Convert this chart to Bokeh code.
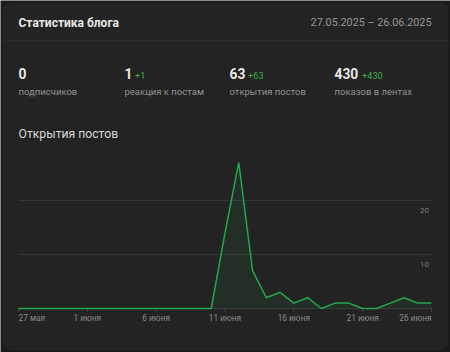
from bokeh.plotting import figure
from bokeh.models import Label, Range1d, BoxAnnotation
from bokeh.embed import file_html
from bokeh.resources import INLINE

# ---- data ----
day_index = list(range(31))  # 27 May .. 26 June 2025
opens = [0, 0, 0, 0, 0, 0, 0, 0, 0, 0, 0, 0, 0, 0, 0,
         14, 27, 7, 2, 3, 1, 2, 0, 1, 1, 0, 0, 1, 2, 1, 1]
tick_days = [0, 5, 10, 15, 20, 25, 30]
tick_labels = ["27 мая", "1 июня", "6 июня", "11 июня", "16 июня", "21 июня", "26 июня"]
y_ticks = [10, 20]

title = "Статистика блога"
period = "27.05.2025 – 26.06.2025"
stat_values = ["0", "1", "63", "430"]
stat_deltas = ["", "+1", "+63", "+430"]
stat_names = ["подписчиков", "реакция к постам", "открытия постов", "показов в лентах"]
chart_title = "Открытия постов"

# ---- layout (pixels) ----
W, H = 450, 352
PL, PR, PB = 18, 431, 308          # plot area left/right/baseline
PX_PER_DAY = (PR - PL) / (len(day_index) - 1)
PX_PER_UNIT = 5.4
FONT = "Roboto"
CARD = "#232323"
OUTER = "#1a1a1a"
GREEN = "#22a84c"

x0 = day_index[0] - PL / PX_PER_DAY
x1 = day_index[-1] + (W - PR) / PX_PER_DAY
y0 = -(H - PB) / PX_PER_UNIT
y1 = PB / PX_PER_UNIT

p = figure(width=W, height=H, output_backend="svg", toolbar_location=None,
           x_range=Range1d(x0, x1), y_range=Range1d(y0, y1),
           min_border=0)
p.axis.visible = False
p.grid.visible = False
p.background_fill_color = OUTER
p.border_fill_color = OUTER
p.outline_line_color = None


def sx(cx):
    return cx


def sy(cy):
    return H - cy


def box(l, t, r, b, color, radius=0):
    p.add_layout(BoxAnnotation(left=sx(l), right=sx(r), top=sy(t), bottom=sy(b),
                               left_units="screen", right_units="screen",
                               top_units="screen", bottom_units="screen",
                               fill_color=color, fill_alpha=1, line_color=None,
                               border_radius=radius, level="underlay"))


box(2, 2, 448, 350, CARD, 9)
box(2, 39.5, 448, 40.5, "#2a2a2a")

# gridlines
n = len(y_ticks)
p.segment(x0=[day_index[0]] * n, x1=[day_index[-1]] * n, y0=y_ticks, y1=y_ticks,
          line_color="#353535", line_width=1)
# axis baseline and tick marks
p.segment(x0=[day_index[0]], x1=[day_index[-1]], y0=[0], y1=[0],
          line_color="#3a3a3a", line_width=1)
tick_len = 3 / PX_PER_UNIT
p.segment(x0=tick_days, x1=tick_days, y0=[0] * len(tick_days),
          y1=[-tick_len] * len(tick_days), line_color="#484848", line_width=1)

p.varea(x=day_index, y1=[0] * len(opens), y2=opens, fill_color=GREEN, fill_alpha=0.09)
p.line(day_index, opens, line_color=GREEN, line_width=1.5)


def lab(text, cx, cy, size, color, bold=False, align="left"):
    p.add_layout(Label(x=sx(cx), y=sy(cy), x_units="screen", y_units="screen",
                       text=text, text_font=FONT, text_font_size=f"{size}px",
                       text_color=color, text_font_style="bold" if bold else "normal",
                       text_align=align, text_baseline="middle"))


lab(title, 18, 22, 12, "#e6e6e6", bold=True)
lab(period, 431, 22, 10.8, "#959595", align="right")

cols = [18, 124, 229, 334]
delta_x = [None, 134.5, 247.5, 361.5]
for i in range(4):
    lab(stat_values[i], cols[i], 73, 13.8, "#e8e8e8", bold=True)
    if stat_deltas[i]:
        lab(stat_deltas[i], delta_x[i], 75.3, 9.2, "#3dae4a")
    lab(stat_names[i], cols[i], 90.5, 9.5, "#929292")

lab(chart_title, 18, 133.5, 12.2, "#d8d8d8")

# x tick labels
for i, (d, t) in enumerate(zip(tick_days, tick_labels)):
    align = "left" if i == 0 else ("right" if i == len(tick_days) - 1 else "center")
    p.add_layout(Label(x=d, y=0, y_offset=-9.7, text=t,
                       text_font=FONT, text_font_size="8.3px", text_color="#8a8a8a",
                       text_align=align, text_baseline="middle"))

# y tick labels inside plot, below gridlines
for v in y_ticks:
    p.add_layout(Label(x=day_index[-1], y=v, x_offset=-2.5, y_offset=-9.8, text=str(v),
                       text_font=FONT, text_font_size="8px", text_color="#7a7a7a",
                       text_align="right", text_baseline="middle"))

open("out.html", "w").write(file_html(p, INLINE))
